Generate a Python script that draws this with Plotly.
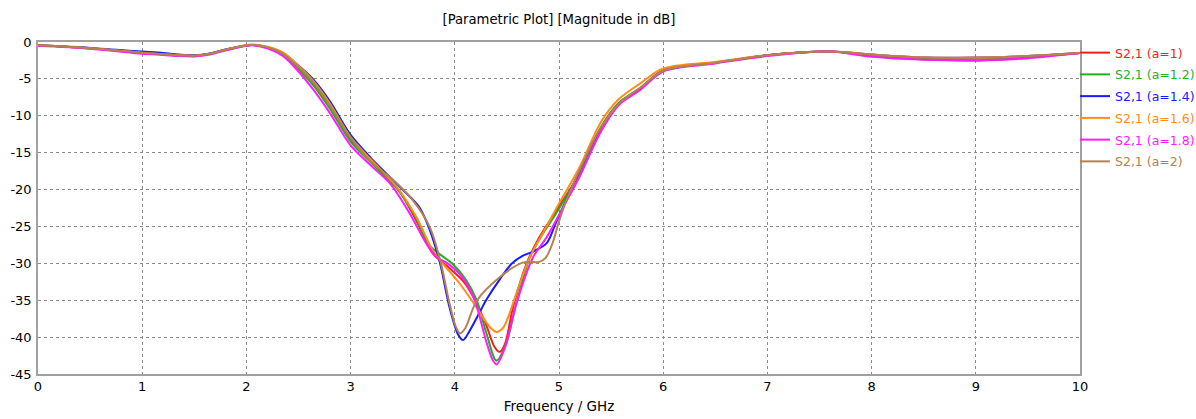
import plotly.graph_objects as go

# ---- data (frequency in GHz, magnitude in dB) ----
f_a1 = [0, 0.5, 1.0, 1.2, 1.35, 1.5, 1.65, 1.8, 2.05, 2.2, 2.35, 2.5, 2.65, 2.8, 3.0, 3.2, 3.44, 3.63, 3.79,
        3.92, 4.08, 4.18, 4.3, 4.38, 4.43, 4.48, 4.56, 4.69, 4.81, 5.0, 5.2, 5.4, 5.57, 5.78, 6.0, 6.5, 7.0,
        7.6, 8.0, 8.5, 9.0, 9.5, 10]
s_a1 = [-0.45, -0.85, -1.45, -1.65, -1.8, -1.85, -1.6, -1.05, -0.4, -0.75, -1.7, -3.6, -5.8, -8.8, -13.3,
        -16.3, -19.6, -24.2, -28.7, -30.3, -32.4, -34.6, -38.3, -41.3, -42.0, -41.0, -35.9, -30.0, -26.5,
        -22.3, -17.8, -11.7, -8.4, -6.3, -3.9, -2.8, -1.8, -1.3, -1.9, -2.35, -2.5, -2.1, -1.5]

f_a12 = [0, 0.5, 1.0, 1.2, 1.35, 1.5, 1.65, 1.8, 2.05, 2.2, 2.35, 2.5, 2.65, 2.8, 3.0, 3.2, 3.44, 3.6, 3.76,
         3.86, 3.98, 4.11, 4.21, 4.3, 4.4, 4.49, 4.59, 4.72, 4.81, 5.0, 5.2, 5.4, 5.57, 5.78, 6.0, 6.5, 7.0,
         7.6, 8.0, 8.5, 9.0, 9.5, 10]
s_a12 = [-0.45, -0.85, -1.45, -1.65, -1.8, -1.85, -1.6, -1.05, -0.4, -0.75, -1.7, -3.7, -6.0, -9.0, -13.5,
         -16.4, -19.8, -23.1, -27.6, -28.8, -30.1, -32.3, -35.0, -39.3, -43.2, -41.0, -35.5, -29.2, -26.8,
         -22.6, -17.6, -11.6, -8.3, -6.2, -3.9, -2.8, -1.8, -1.3, -1.8, -2.2, -2.3, -2.0, -1.5]

f_a14 = [0, 0.5, 1.0, 1.2, 1.35, 1.5, 1.65, 1.8, 2.05, 2.2, 2.35, 2.5, 2.65, 2.8, 3.0, 3.2, 3.47, 3.66, 3.76,
         3.86, 3.95, 4.03, 4.08, 4.14, 4.24, 4.3, 4.43, 4.55, 4.65, 4.75, 4.88, 4.97, 5.07, 5.17, 5.29, 5.4,
         5.57, 5.78, 6.0, 6.5, 7.0, 7.6, 8.0, 8.5, 9.0, 9.5, 10]
s_a14 = [-0.45, -0.8, -1.3, -1.5, -1.7, -1.8, -1.55, -1.0, -0.4, -0.7, -1.5, -3.2, -5.2, -8.0, -12.6,
         -15.8, -19.6, -22.4, -25.5, -30.1, -36.0, -39.6, -40.4, -39.2, -36.6, -35.0, -32.2, -30.0, -29.0,
         -28.4, -27.3, -24.5, -21.4, -18.3, -14.6, -11.8, -8.4, -6.3, -3.9, -2.8, -1.8, -1.3, -1.7, -2.1,
         -2.1, -1.9, -1.5]

f_a16 = [0, 0.5, 1.0, 1.2, 1.35, 1.5, 1.65, 1.8, 2.05, 2.2, 2.35, 2.5, 2.65, 2.8, 3.0, 3.2, 3.44, 3.63, 3.79,
         3.89, 4.05, 4.21, 4.34, 4.4, 4.46, 4.52, 4.59, 4.72, 4.88, 5.0, 5.2, 5.4, 5.57, 5.78, 6.0, 6.5, 7.0,
         7.6, 8.0, 8.5, 9.0, 9.5, 10]
s_a16 = [-0.45, -0.85, -1.45, -1.65, -1.8, -1.85, -1.6, -1.05, -0.35, -0.65, -1.4, -3.2, -5.4, -8.3, -12.9,
         -16.0, -19.6, -23.7, -28.3, -30.1, -32.8, -36.0, -38.7, -39.3, -38.8, -37.0, -34.1, -29.2, -25.0,
         -21.9, -16.9, -10.9, -7.8, -5.6, -3.6, -2.7, -1.8, -1.3, -1.7, -2.1, -2.1, -1.9, -1.5]

f_a18 = [0, 0.5, 1.0, 1.2, 1.35, 1.5, 1.65, 1.8, 2.05, 2.2, 2.35, 2.5, 2.65, 2.8, 3.0, 3.2, 3.38, 3.57, 3.73,
         3.83, 3.92, 4.05, 4.18, 4.3, 4.36, 4.4, 4.48, 4.59, 4.75, 4.88, 5.04, 5.2, 5.4, 5.57, 5.78, 6.0,
         6.5, 7.0, 7.6, 8.0, 8.5, 9.0, 9.5, 10]
s_a18 = [-0.5, -0.9, -1.6, -1.75, -1.9, -1.95, -1.7, -1.15, -0.45, -0.85, -1.9, -4.0, -6.6, -9.6, -14.0,
         -16.8, -19.2, -23.3, -27.4, -29.2, -29.9, -31.5, -34.6, -40.5, -43.0, -43.7, -41.5, -35.5, -29.2,
         -26.5, -22.4, -18.2, -12.2, -8.6, -6.5, -4.0, -2.9, -1.9, -1.3, -2.0, -2.4, -2.5, -2.2, -1.5]

f_a2 = [0, 0.5, 1.0, 1.2, 1.35, 1.5, 1.65, 1.8, 2.05, 2.2, 2.35, 2.5, 2.65, 2.8, 3.0, 3.2, 3.41, 3.6, 3.76,
        3.86, 3.95, 4.01, 4.05, 4.1, 4.21, 4.43, 4.65, 4.81, 4.87, 4.94, 5.0, 5.07, 5.2, 5.39, 5.57, 5.78,
        6.0, 6.5, 7.0, 7.6, 8.0, 8.5, 9.0, 9.5, 10]
s_a2 = [-0.45, -0.85, -1.45, -1.65, -1.8, -1.85, -1.6, -1.05, -0.4, -0.7, -1.6, -3.4, -5.6, -8.6, -13.0,
        -16.3, -18.7, -21.5, -25.1, -29.6, -35.5, -38.6, -39.5, -38.8, -35.1, -31.9, -29.9, -29.8, -29.3,
        -27.2, -24.3, -21.5, -17.3, -11.9, -8.4, -6.2, -3.9, -2.8, -1.8, -1.3, -1.7, -2.1, -2.2, -1.9, -1.5]

series_names = ["S2,1 (a=1)", "S2,1 (a=1.2)", "S2,1 (a=1.4)", "S2,1 (a=1.6)", "S2,1 (a=1.8)", "S2,1 (a=2)"]
series_f = [f_a1, f_a12, f_a14, f_a16, f_a18, f_a2]
series_s = [s_a1, s_a12, s_a14, s_a16, s_a18, s_a2]
colors = ["#ff1a1a", "#1fb21f", "#1a1aff", "#ff8c1a", "#ff1aff", "#b4824f"]

x_ticks = [0, 1, 2, 3, 4, 5, 6, 7, 8, 9, 10]
y_ticks = [0, -5, -10, -15, -20, -25, -30, -35, -40, -45]

FONT = "DejaVu Sans"

fig = go.Figure()
for i, (name, fx, sy, col) in enumerate(zip(series_names, series_f, series_s, colors)):
    fig.add_trace(go.Scatter(
        x=fx, y=sy, mode="lines", legendgroup=f"g{i}",
        name=f'<span style="color:{col}">{name}</span>',
        line=dict(color=col, width=2, shape="spline", smoothing=0.9),
    ))

axis_common = dict(
    showline=True, linecolor="#a0a0a0", linewidth=1.5, mirror=True,
    showgrid=True, gridcolor="#8c8c8c", griddash="dot", gridwidth=1,
    zeroline=False, ticks="", tickfont=dict(family=FONT, size=13, color="#000000"),
)

fig.update_layout(
    width=1196, height=419,
    margin=dict(l=38, r=116, t=42, b=45, autoexpand=False),
    paper_bgcolor="white", plot_bgcolor="white",
    title=dict(text="[Parametric Plot] [Magnitude in dB]", x=(38 + 1080) / 2 / 1196, xanchor="center",
               y=1 - 19 / 419, yanchor="middle", font=dict(family=FONT, size=13.2, color="#000000")),
    xaxis=dict(range=[0, 10], tickvals=x_ticks, ticktext=[str(v) for v in x_ticks],
               title=dict(text="Frequency / GHz", font=dict(family=FONT, size=13.5, color="#000000"), standoff=8),
               **axis_common),
    yaxis=dict(range=[-45, 0], tickvals=y_ticks, ticktext=[str(v) for v in y_ticks], ticklabelstandoff=2,
               **axis_common),
    legend=dict(x=(1075 - 38) / 1042, xanchor="left", y=1 + 4 / 332, yanchor="top",
                font=dict(family=FONT, size=12.5, color="#000000"),
                bgcolor="rgba(0,0,0,0)", tracegroupgap=2.5, itemwidth=30),
    showlegend=True,
)

fig.write_html("out.html")
